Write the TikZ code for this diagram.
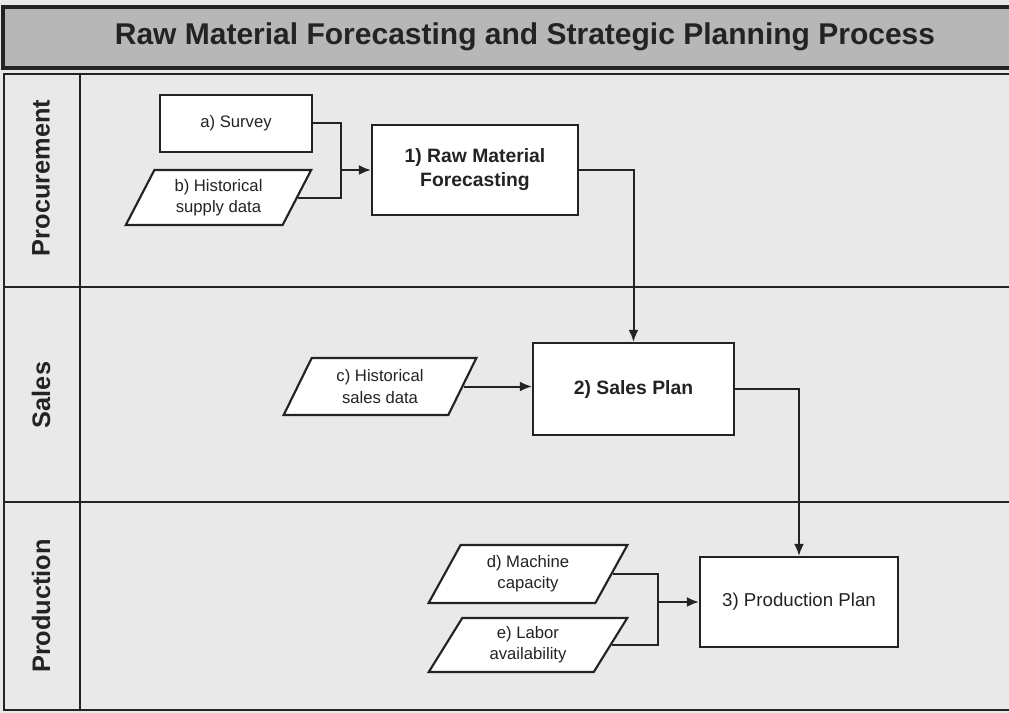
\documentclass[tikz,border=0pt]{standalone}
\usepackage{fontspec}
\setmainfont{Liberation Sans}
\usetikzlibrary{arrows.meta,shapes.geometric}
\definecolor{paper}{HTML}{E9E9E9}
\definecolor{band}{HTML}{B7B7B7}
\definecolor{ink}{HTML}{232323}

\begin{document}
\begin{tikzpicture}[x=0.75pt,y=-0.75pt,
  lanerule/.style={draw=ink,line width=2pt},
  process/.style={draw=ink,line width=1.7pt,fill=white,inner sep=0pt,
    align=center,text=ink},
  dataio/.style={draw=ink,line width=1.6pt,fill=white,inner sep=0pt,
    trapezium,trapezium left angle=62,trapezium right angle=118,
    trapezium stretches=true,align=center,text=ink,
    font=\fontsize{12.5}{16}\selectfont},
  lanelabel/.style={rotate=90,text=ink,font=\fontsize{19}{22}\selectfont\bfseries},
  link/.style={draw=ink,line width=1.5pt},
  flow/.style={link,-{Latex[length=9pt,width=7.5pt]}}
]
% page and frame
\useasboundingbox (0,0) rectangle (1009,713);
\fill[paper] (0,0) rectangle (1009,713);
\draw[ink,line width=2.4pt,fill=band] (3,7) rectangle (1020,68);
\node[text=ink,font=\fontsize{22.5}{26}\selectfont\bfseries] (title) at (525,37)
  {Raw Material Forecasting and Strategic Planning Process};

% swimlanes
\draw[lanerule] (4,74) rectangle (1020,710);
\draw[lanerule] (4,287) -- (1020,287);
\draw[lanerule] (4,502) -- (1020,502);
\draw[lanerule] (80,74) -- (80,710);
\node[lanelabel] (lproc) at (41,178) {Procurement};
\node[lanelabel] (lsales) at (41,395) {Sales};
\node[lanelabel] (lprod) at (41,606) {Production};

% procurement lane
\node[process,minimum width={152*0.75pt},minimum height={57*0.75pt},
  font=\fontsize{12.5}{16}\selectfont] (survey) at (236,123.5) {a) Survey};
\node[dataio,minimum width={187*0.75pt},minimum height={55*0.75pt}]
  (histsupply) at (218.5,197.5) {b) Historical\\supply data};
\node[process,minimum width={206*0.75pt},minimum height={90*0.75pt},
  font=\fontsize{14.5}{18}\selectfont\bfseries] (forecast) at (475,170)
  {1) Raw Material\\Forecasting};

% sales lane
\node[dataio,minimum width={194*0.75pt},minimum height={57*0.75pt}]
  (histsales) at (380,386.5) {c) Historical\\sales data};
\node[process,minimum width={201*0.75pt},minimum height={92*0.75pt},
  font=\fontsize{14.5}{18}\selectfont\bfseries] (salesplan) at (633.5,389)
  {2) Sales Plan};

% production lane
\node[dataio,minimum width={200*0.75pt},minimum height={58*0.75pt}]
  (machine) at (528,574) {d) Machine\\capacity};
\node[dataio,minimum width={200*0.75pt},minimum height={54*0.75pt}]
  (labor) at (528,645) {e) Labor\\availability};
\node[process,minimum width={198*0.75pt},minimum height={90*0.75pt},
  font=\fontsize{14}{18}\selectfont] (prodplan) at (799,602)
  {3) Production Plan};

% connectors
\coordinate (jproc) at (341,170);
\coordinate (jprod) at (658,602);
\draw[link] (survey.east) -| (jproc);
\draw[link] (histsupply.east) -| (jproc);
\draw[flow] (jproc) -- (forecast.west);
\draw[flow] (forecast.east) -| (salesplan.north);
\draw[flow] (histsales.east) -- (histsales.east -| salesplan.west);
\draw[flow] (salesplan.east) -| (prodplan.north);
\draw[link] (machine.east) -| (jprod);
\draw[link] (labor.east) -| (jprod);
\draw[flow] (jprod) -- (prodplan.west);
\end{tikzpicture}
\end{document}
